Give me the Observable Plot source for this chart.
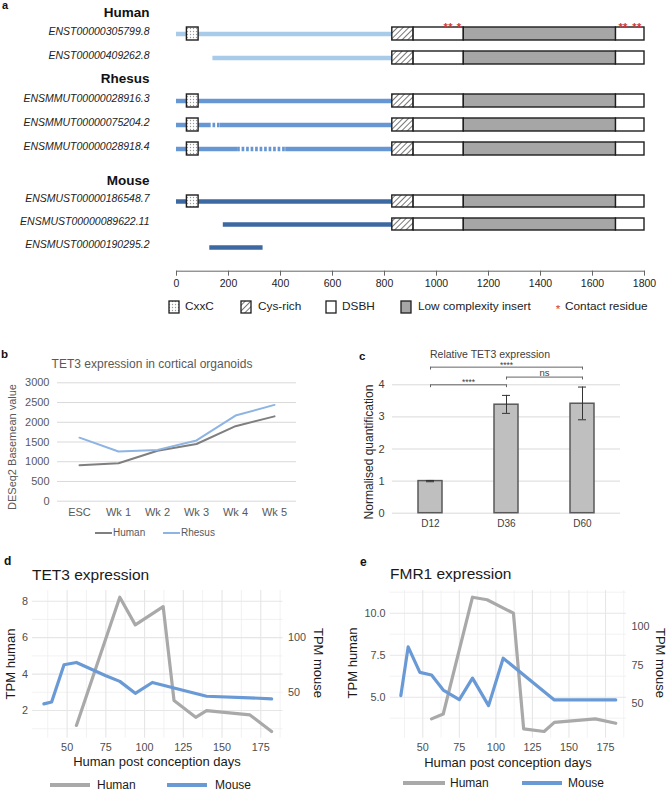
<!DOCTYPE html>
<html><head><meta charset="utf-8">
<script src="https://cdn.jsdelivr.net/npm/d3@7"></script>
<script src="https://cdn.jsdelivr.net/npm/@observablehq/plot@0.6"></script>
<style>
body{margin:0;background:#fff;}
#root{position:relative;width:669px;height:791px;overflow:hidden;font-family:"Liberation Sans",Arial,sans-serif;background:#fff;}
.t{position:absolute;white-space:nowrap;line-height:1;}
</style></head><body>
<svg width="0" height="0" style="position:absolute"><defs>
<pattern id="dots" width="3" height="3" patternUnits="userSpaceOnUse"><rect width="3" height="3" fill="#fff"/><circle cx="1.5" cy="1.5" r="0.65" fill="#9a9a9a"/></pattern>
<pattern id="hatch" width="4" height="4" patternUnits="userSpaceOnUse" patternTransform="rotate(45)"><rect width="4" height="4" fill="#fff"/><line x1="0.5" y1="0" x2="0.5" y2="4" stroke="#6a6a6a" stroke-width="0.9"/></pattern>
</defs></svg>
<div id="root"></div>
<script>
// ---------- Panel a data ----------
const transcripts = ["ENST00000305799.8","ENST00000409262.8","ENSMMUT00000028916.3","ENSMMUT00000075204.2","ENSMMUT00000028918.4","ENSMUST00000186548.7","ENSMUST00000089622.11","ENSMUST00000190295.2"];
const transcriptSpecies = ["Human","Human","Rhesus","Rhesus","Rhesus","Mouse","Mouse","Mouse"];
const lineStart = [0, 140, 0, 0, 0, 0, 180, 128];
const lineEnd = [830, 830, 830, 830, 830, 830, 830, 333];
const hasCxxC = [true, false, true, true, true, true, false, false];
const hasCatalytic = [true, true, true, true, true, true, true, false];
const gapStart = [null, null, null, 123, 235, null, null, null];
const gapEnd = [null, null, null, 169, 420, null, null, null];
const domainNames = ["CxxC", "Cys-rich", "DSBH", "Low complexity insert", "DSBH"];
const domainStart = [40, 830, 912, 1105, 1690];
const domainEnd = [85, 912, 1105, 1690, 1800];
const contactResidues = [1035, 1053, 1086, 1708, 1726, 1761, 1779];
const aaTicks = [0, 200, 400, 600, 800, 1000, 1200, 1400, 1600, 1800];

// ---------- Panel b data ----------
const weeks = ["ESC", "Wk 1", "Wk 2", "Wk 3", "Wk 4", "Wk 5"];
const humanBasemean = [910, 960, 1280, 1450, 1900, 2150];
const rhesusBasemean = [1610, 1260, 1300, 1540, 2170, 2440];
const basemeanTicks = [0, 500, 1000, 1500, 2000, 2500, 3000];

// ---------- Panel c data ----------
const timepoints = ["D12", "D36", "D60"];
const relExpr = [1.0, 3.38, 3.41];
const relLow = [0.98, 3.11, 2.91];
const relHigh = [1.02, 3.67, 3.93];
const compFrom = ["D12", "D36", "D12"];
const compTo = ["D36", "D60", "D60"];
const compLevel = [4.0, 4.24, 4.55];
const compLabel = ["****", "ns", "****"];
const relTicks = [0, 1, 2, 3, 4];

// ---------- Panel d data (TET3) ----------
const humanDaysD = [56, 84, 94, 112, 119, 133, 140, 168, 182];
const humanTpmD = [1.18, 8.22, 6.7, 7.7, 2.55, 1.63, 2.0, 1.76, 0.85];
const mouseDaysD = [35, 40, 48, 56, 75, 84, 94, 105, 140, 168, 182];
const mouseTpmD = [39.4, 41.2, 75.2, 77.3, 65.2, 60, 49.1, 59, 46.4, 45, 44];
const humanTicksD = [2, 4, 6, 8];
const humanMinorD = [1, 3, 5, 7];
const mouseTicksD = [50, 100];
const secRatioD = 0.06;

// ---------- Panel e data (FMR1) ----------
const humanDaysE = [56, 64, 84, 94, 112, 119, 133, 140, 168, 182];
const humanTpmE = [3.71, 4.0, 10.95, 10.8, 10.0, 3.12, 2.96, 3.5, 3.71, 3.45];
const mouseDaysE = [35, 40, 48, 56, 64, 75, 84, 95, 105, 140, 182];
const mouseTpmE = [55.4, 86.9, 70.4, 68.7, 59.0, 52.8, 66.7, 48.9, 79.6, 52.6, 52.6];
const humanTicksE = [5, 7.5, 10];
const humanMinorE = [3.75, 6.25, 8.75, 11.25];
const mouseTicksE = [50, 75, 100];
const secRatioE = 0.092;

const dayTicks = [50, 75, 100, 125, 150, 175];
const dayMinor = [37.5, 62.5, 87.5, 112.5, 137.5, 162.5, 187.5];

// ---------- helpers ----------
const FONT = "'Liberation Sans', Arial, sans-serif";
const root = document.getElementById("root");
function addSvg(svg, left, top) {
  svg.style.position = "absolute"; svg.style.left = left + "px"; svg.style.top = top + "px";
  root.appendChild(svg);
}
function txt(s, x, y, o = {}) {
  const d = document.createElement("div");
  d.className = "t"; d.textContent = s;
  Object.assign(d.style, {
    left: x + "px", top: y + "px", fontSize: (o.size || 11) + "px",
    fontWeight: o.weight || "normal", color: o.color || "#222",
    fontStyle: o.italic ? "italic" : "normal"
  });
  const ax = o.anchor === "middle" ? "-50%" : o.anchor === "end" ? "-100%" : "0";
  d.style.transform = o.rotate ? `translate(-50%,-50%) rotate(${o.rotate}deg)` : `translate(${ax},-50%)`;
  root.appendChild(d);
  return d;
}
function hline(x1, x2, y, w, color) {
  const d = document.createElement("div");
  Object.assign(d.style, {position: "absolute", left: x1 + "px", top: (y - w / 2) + "px", width: (x2 - x1) + "px", height: w + "px", background: color});
  root.appendChild(d);
}
function swatchBox(x, y, w, h, fill) {
  const ns = "http://www.w3.org/2000/svg";
  const s = document.createElementNS(ns, "svg");
  s.setAttribute("width", w + 2); s.setAttribute("height", h + 2);
  const r = document.createElementNS(ns, "rect");
  r.setAttribute("x", 1); r.setAttribute("y", 1); r.setAttribute("width", w); r.setAttribute("height", h);
  r.setAttribute("fill", fill); r.setAttribute("stroke", "#1e1e1e"); r.setAttribute("stroke-width", 1.3);
  s.appendChild(r);
  s.style.position = "absolute"; s.style.left = (x - 1) + "px"; s.style.top = (y - 1) + "px";
  root.appendChild(s);
}

// ---------- Panel a ----------
const speciesColor = {Human: "#a9cbea", Rhesus: "#6797d3", Mouse: "#3d69a2"};
const domainFill = {"CxxC": "url(#dots)", "Cys-rich": "url(#hatch)", "DSBH": "#ffffff", "Low complexity insert": "#a6a6a6"};

function groupPlot(sp, o) {
  const idx = transcripts.map((_, i) => i).filter(i => transcriptSpecies[i] === sp);
  const ids = idx.map(i => transcripts[i]);
  const solid = [], dashed = [], boxes = [];
  for (const i of idx) {
    const id = transcripts[i];
    if (gapStart[i] != null) {
      solid.push({id, x1: lineStart[i], x2: gapStart[i]});
      dashed.push({id, x1: gapStart[i], x2: gapEnd[i]});
      solid.push({id, x1: gapEnd[i], x2: lineEnd[i]});
    } else solid.push({id, x1: lineStart[i], x2: lineEnd[i]});
    domainNames.forEach((name, k) => {
      if (name === "CxxC" ? hasCxxC[i] : hasCatalytic[i]) boxes.push({id, name, x1: domainStart[k], x2: domainEnd[k]});
    });
  }
  const color = speciesColor[sp];
  const marks = [
    Plot.ruleY(solid, {x1: "x1", x2: "x2", y: "id", stroke: color, strokeWidth: 4.5}),
    Plot.ruleY(dashed, {x1: "x1", x2: "x2", y: "id", stroke: color, strokeWidth: 4.5, strokeDasharray: "2.7,1.8"}),
    ...Object.entries(domainFill).map(([name, fill]) =>
      Plot.barX(boxes.filter(b => b.name === name), {x1: "x1", x2: "x2", y: "id", fill, stroke: "#1e1e1e", strokeWidth: 1.4})),
    Plot.text(ids, {y: d => d, text: d => d, frameAnchor: "left", textAnchor: "end", lineAnchor: "middle", dx: -27, dy: -2.6, fontStyle: "italic", fontSize: 10.5, fill: "#222"}),
    Plot.text([sp], {text: d => d, frameAnchor: "top-left", textAnchor: "end", lineAnchor: "middle", dx: -27, dy: o.headerDy, fontWeight: "bold", fontSize: 13.5, fill: "#111"})
  ];
  if (sp === "Human") {
    marks.push(Plot.text(contactResidues, {x: d => d, y: () => transcripts[0], text: () => "*", fill: "#d23a3a", fontSize: 11, fontWeight: "bold", dy: -7}));
  }
  if (o.axis) {
    marks.push(Plot.frame({anchor: "bottom", stroke: "#666"}));
    marks.push(Plot.axisX({ticks: aaTicks, tickSize: 5, tickPadding: 3, fontSize: 10.5, fill: "#222", stroke: "#666", label: null, tickFormat: d => String(d)}));
  }
  return Plot.plot({
    width: 669, height: o.height, marginLeft: 176, marginRight: 25, marginTop: o.marginTop, marginBottom: o.marginBottom,
    style: {fontFamily: FONT, background: "transparent", overflow: "visible"},
    x: {domain: [0, 1800], label: null, axis: o.axis ? undefined : null},
    y: {type: "band", domain: ids, paddingInner: o.pi, paddingOuter: 0, insetBottom: o.insetBottom || 0, axis: null},
    marks
  });
}
addSvg(groupPlot("Human", {height: 68, marginTop: 26.8, marginBottom: 3.5, pi: 0.4737, headerDy: -14.8}), 0, 0);
addSvg(groupPlot("Rhesus", {height: 92, marginTop: 25.5, marginBottom: 5, pi: 0.464, headerDy: -15.5}), 0, 68);
addSvg(groupPlot("Mouse", {height: 135, marginTop: 33.5, marginBottom: 24.3, pi: 0.4583, insetBottom: 16.2, headerDy: -13.5, axis: true}), 0, 160);

txt("a", 2, 5, {size: 11, weight: "bold", color: "#111"});
// legend a
swatchBox(169, 301, 10, 12, "url(#dots)"); txt("CxxC", 185, 307, {size: 11.8});
swatchBox(241, 301, 10, 12, "url(#hatch)"); txt("Cys-rich", 258, 307, {size: 11.8});
swatchBox(326, 301, 10, 12, "#ffffff"); txt("DSBH", 342, 307, {size: 11.8});
swatchBox(401, 301, 10, 12, "#a6a6a6"); txt("Low complexity insert", 418, 307, {size: 11.8});
txt("*", 558, 310, {size: 11.8, color: "#d23a3a", anchor: "middle"}); txt("Contact residue", 565, 307, {size: 11.8});

// ---------- Panel b ----------
const bRows = weeks.flatMap((w, i) => [{w, v: humanBasemean[i], s: "Human"}, {w, v: rhesusBasemean[i], s: "Rhesus"}]);
addSvg(Plot.plot({
  width: 310, height: 150, marginLeft: 57, marginRight: 14, marginTop: 12.3, marginBottom: 19.3,
  style: {fontFamily: FONT, background: "transparent", overflow: "visible"},
  x: {type: "point", domain: weeks, padding: 0.5, label: null},
  y: {domain: [0, 3000], label: null},
  marks: [
    Plot.gridY(basemeanTicks, {stroke: "#d9d9d9", strokeOpacity: 1}),
    Plot.axisY({ticks: basemeanTicks, tickSize: 0, tickPadding: 8, fontSize: 11, fill: "#595959", label: null, tickFormat: d => String(d)}),
    Plot.axisX({tickSize: 0, tickPadding: 6.5, fontSize: 11, fill: "#595959", label: null}),
    Plot.line(bRows.filter(d => d.s === "Human"), {x: "w", y: "v", stroke: "#7f7f7f", strokeWidth: 2}),
    Plot.line(bRows.filter(d => d.s === "Rhesus"), {x: "w", y: "v", stroke: "#8db4e2", strokeWidth: 2})
  ]
}), 0, 370);
txt("b", 1, 355, {size: 11.5, weight: "bold", color: "#111"});
txt("TET3 expression in cortical organoids", 152, 364, {size: 12, color: "#595959", anchor: "middle"});
txt("DESeq2 Basemean value", 12, 447, {size: 11, color: "#595959", rotate: -90});
hline(95, 112, 533, 2, "#7f7f7f"); txt("Human", 113, 533, {size: 10, color: "#595959"});
hline(163, 180, 533, 2, "#8db4e2"); txt("Rhesus", 181, 533, {size: 10, color: "#595959"});

// ---------- Panel c ----------
const cRows = timepoints.map((t, i) => ({t, v: relExpr[i], lo: relLow[i], hi: relHigh[i]}));
const comps = compFrom.map((f, i) => ({from: f, to: compTo[i], level: compLevel[i], label: compLabel[i]}));
const cWidth = 300, cML = 62, cMR = 10;
const cStep = (cWidth - cML - cMR) / timepoints.length;
addSvg(Plot.plot({
  width: cWidth, height: 175, marginLeft: cML, marginRight: cMR, marginTop: 29.3, marginBottom: 17.3,
  style: {fontFamily: FONT, background: "transparent", overflow: "visible"},
  x: {type: "band", domain: timepoints, paddingInner: 0.684, paddingOuter: 0.342, label: null},
  y: {domain: [0, 4], label: null},
  marks: [
    Plot.gridY(relTicks, {stroke: "#d9d9d9", strokeOpacity: 1}),
    Plot.axisY({ticks: relTicks, tickSize: 0, tickPadding: 8, fontSize: 11, fill: "#404040", label: null, tickFormat: d => String(d)}),
    Plot.axisX({tickSize: 0, tickPadding: 7, fontSize: 10, fill: "#404040", label: null}),
    Plot.barY(cRows, {x: "t", y: "v", fill: "#bfbfbf", stroke: "#595959", strokeWidth: 1.5}),
    Plot.ruleX(cRows, {x: "t", y1: "lo", y2: "hi", stroke: "#333", strokeWidth: 1}),
    Plot.tickY(cRows, {x: "t", y: "lo", insetLeft: 8, insetRight: 8, stroke: "#333", strokeWidth: 1}),
    Plot.tickY(cRows, {x: "t", y: "hi", insetLeft: 8, insetRight: 8, stroke: "#333", strokeWidth: 1}),
    Plot.link(comps, {x1: "from", x2: "to", y1: "level", y2: "level", stroke: "#666", strokeWidth: 1}),
    Plot.ruleX(comps, {x: "from", y1: "level", y2: d => d.level - 0.09, stroke: "#666", strokeWidth: 1}),
    Plot.ruleX(comps, {x: "to", y1: "level", y2: d => d.level - 0.09, stroke: "#666", strokeWidth: 1}),
    ...comps.map(c => Plot.text([c], {
      x: "from", y: "level", text: "label",
      dx: (timepoints.indexOf(c.to) - timepoints.indexOf(c.from)) * cStep / 2,
      dy: c.label === "ns" ? -4.6 : -2.3, fontSize: c.label === "ns" ? 9.5 : 8.5, fill: "#404040"
    }))
  ]
}), 330, 355);
txt("c", 359, 357, {size: 11.5, weight: "bold", color: "#111"});
txt("Relative TET3 expression", 490, 354, {size: 10.5, color: "#404040", anchor: "middle"});
txt("Normalised quantification", 369, 452, {size: 12, color: "#262626", rotate: -90});

// ---------- Panels d, e ----------
function ggPanel(o) {
  const human = o.hd.map((d, i) => ({day: d, v: o.ht[i]}));
  const mouse = o.md.map((d, i) => ({day: d, v: o.mt[i] * o.ratio}));
  const [x0, x1] = d3.extent([...o.hd, ...o.md]);
  const xp = (x1 - x0) * 0.05;
  const [y0, y1] = d3.extent([...human, ...mouse], d => d.v);
  const yp = (y1 - y0) * 0.05;
  return Plot.plot({
    width: o.width, height: 170, marginLeft: o.ml, marginRight: o.mr, marginTop: 5, marginBottom: 17.3,
    style: {fontFamily: FONT, background: "transparent", overflow: "visible"},
    x: {domain: [x0 - xp, x1 + xp], label: null},
    y: {domain: [y0 - yp, y1 + yp], label: null},
    marks: [
      Plot.gridX(dayMinor.filter(d => d > x0 - xp && d < x1 + xp), {stroke: "#efefef", strokeOpacity: 1, strokeWidth: 0.8}),
      Plot.gridY(o.yMinor.filter(d => d > y0 - yp && d < y1 + yp), {stroke: "#efefef", strokeOpacity: 1, strokeWidth: 0.8}),
      Plot.gridX(dayTicks, {stroke: "#e6e6e6", strokeOpacity: 1, strokeWidth: 1.1}),
      Plot.gridY(o.yTicks, {stroke: "#e6e6e6", strokeOpacity: 1, strokeWidth: 1.1}),
      Plot.axisX({ticks: dayTicks, tickSize: 0, tickPadding: 5, fontSize: 10.8, fill: "#4d4d4d", label: null}),
      Plot.axisY({ticks: o.yTicks, tickSize: 0, tickPadding: 4.5, fontSize: 10.8, fill: "#4d4d4d", label: null, tickFormat: o.yFmt}),
      Plot.axisY({anchor: "right", ticks: o.mouseTicks.map(v => v * o.ratio), tickSize: 0, tickPadding: 5, fontSize: 10.8, fill: "#4d4d4d", label: null, tickFormat: d => String(Math.round(d / o.ratio))}),
      Plot.line(human, {x: "day", y: "v", stroke: "#a9a9a9", strokeWidth: 3.2}),
      Plot.line(mouse, {x: "day", y: "v", stroke: "#6a9ad6", strokeWidth: 3.2})
    ]
  });
}
addSvg(ggPanel({width: 335, ml: 32, mr: 52.5, hd: humanDaysD, ht: humanTpmD, md: mouseDaysD, mt: mouseTpmD, ratio: secRatioD,
  yTicks: humanTicksD, yMinor: humanMinorD, mouseTicks: mouseTicksD, yFmt: d => String(d)}), 0, 585);
addSvg(ggPanel({width: 334, ml: 54.6, mr: 43, hd: humanDaysE, ht: humanTpmE, md: mouseDaysE, mt: mouseTpmE, ratio: secRatioE,
  yTicks: humanTicksE, yMinor: humanMinorE, mouseTicks: mouseTicksE, yFmt: d3.format(".1f")}), 335, 585);

txt("d", 4, 561, {size: 12, weight: "bold", color: "#111"});
txt("TET3 expression", 32, 575, {size: 15.5, color: "#1a1a1a"});
txt("TPM human", 10, 664, {size: 13, color: "#1a1a1a", rotate: -90});
txt("TPM mouse", 318, 663, {size: 13, color: "#1a1a1a", rotate: 90});
txt("Human post conception days", 157, 761, {size: 13, color: "#1a1a1a", anchor: "middle"});
hline(50, 90, 785, 4, "#a9a9a9"); txt("Human", 97, 785, {size: 12, color: "#1a1a1a"});
hline(167, 207, 785, 4, "#6a9ad6"); txt("Mouse", 215, 785, {size: 12, color: "#1a1a1a"});

txt("e", 360, 562, {size: 12, weight: "bold", color: "#111"});
txt("FMR1 expression", 390, 574, {size: 15.5, color: "#1a1a1a"});
txt("TPM human", 352, 663, {size: 13, color: "#1a1a1a", rotate: -90});
txt("TPM mouse", 660, 663, {size: 13, color: "#1a1a1a", rotate: 90});
txt("Human post conception days", 508, 761.5, {size: 13, color: "#1a1a1a", anchor: "middle"});
hline(403, 445, 783, 4, "#a9a9a9"); txt("Human", 450, 783, {size: 12, color: "#1a1a1a"});
hline(522, 562, 783, 4, "#6a9ad6"); txt("Mouse", 568, 783, {size: 12, color: "#1a1a1a"});
</script>
</body></html>
